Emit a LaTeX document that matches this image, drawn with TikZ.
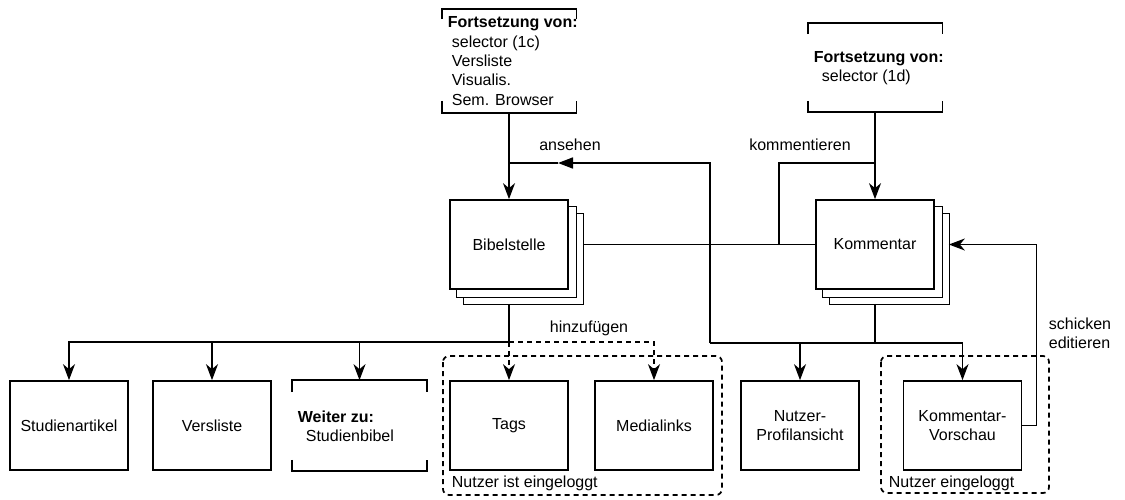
\documentclass[tikz,border=0pt]{standalone}
\usepackage{fontspec}
\setmainfont{Liberation Sans}
\usetikzlibrary{arrows.meta,backgrounds}
\begin{document}
\begin{tikzpicture}[x=1pt,y=-1pt,line width=1.7pt,
  every node/.style={font=\fontsize{16}{19.3}\selectfont},
  box/.style={draw,fill=white,minimum width=118pt,minimum height=89pt,inner sep=0pt,align=center},
  frame/.style={minimum width=133pt,inner sep=0pt},
  arr/.style={-{Stealth[length=16pt,width=12pt,inset=5pt]}},
  tri/.style={-{Triangle[length=15pt,width=11pt]}},
  dashedline/.style={dash pattern=on 5pt off 4pt},
  group/.style={draw,dash pattern=on 5pt off 4pt,rounded corners=6pt},
  lbl/.style={inner sep=0pt}
]
\useasboundingbox (0,0) rectangle (1125,499);

% groups of views that need a logged-in user
\draw[group] (443,356) rectangle (722,495);
\draw[group] (881,356) rectangle (1049,493);
\node[lbl,anchor=west] (g1) at (451,483) {Nutzer ist eingeloggt};
\node[lbl,anchor=west] (g2) at (888,483) {Nutzer eingeloggt};

% continuation brackets at the top
\node[frame,minimum height=102pt] (src1) at (509,61) {};
\draw (src1.north west) ++(0,10) -- (src1.north west) -- (src1.north east) -- ++(0,10);
\draw (src1.south west) ++(0,-12) -- (src1.south west) -- (src1.south east) -- ++(0,-12);
\node[lbl,anchor=west,align=left] (src1t) at (447,61)
  {\textbf{Fortsetzung von:}\\\hspace*{4pt}selector (1c)\\\hspace*{4pt}Versliste\\\hspace*{4pt}Visualis.\\\hspace*{4pt}Sem. Browser};

\node[frame,minimum height=87pt] (src2) at (875,67.5) {};
\draw (src2.north west) ++(0,11) -- (src2.north west) -- (src2.north east) -- ++(0,11);
\draw (src2.south west) ++(0,-11) -- (src2.south west) -- (src2.south east) -- ++(0,-11);
\node[lbl,anchor=west,align=left] (src2t) at (813,68)
  {\textbf{Fortsetzung von:}\\\hspace*{8pt}selector (1d)};

% stacked main views
\node[box] (bib) at (509,244.5) {Bibelstelle};
\node[box] (kom) at (875,244.5) {Kommentar};
\begin{scope}[on background layer]
  \foreach \n in {bib,kom}{
    \draw[fill=white] ([shift={(14,14)}]\n.south west) rectangle ([shift={(14,14)}]\n.north east);
    \draw[fill=white] ([shift={(7,7)}]\n.south west) rectangle ([shift={(7,7)}]\n.north east);
  }
\end{scope}

% bottom row
\node[box] (art) at (69,425.5) {Studienartikel};
\node[box] (vers) at (212,425.5) {Versliste};
\node[frame,minimum height=89pt] (weiter) at (359.5,425.5) {};
\draw (weiter.north west) ++(0,12) -- (weiter.north west) -- (weiter.north east) -- ++(0,12);
\draw (weiter.south west) ++(0,-11) -- (weiter.south west) -- (weiter.south east) -- ++(0,-11);
\node[lbl,anchor=west,align=left] (weitert) at (297,426)
  {\textbf{Weiter zu:}\\\hspace*{8pt}Studienbibel};
\node[box] (tags) at (509,425.5) {Tags};
\node[box] (media) at (654,425.5) {Medialinks};
\node[box] (prof) at (800,425.5) {Nutzer-\\Profilansicht};
\node[box] (vor) at (962.5,425.5) {Kommentar-\\Vorschau};

% junction points
\coordinate (bibjoin) at (bib.south |- 0,342);
\coordinate (rbus) at (710,343);
\coordinate (komjoin) at (kom.south |- rbus);
\coordinate (amid) at (558,163);
\coordinate (kj) at (779,245);

% connectors
\draw[arr] (src1.south) -- (bib.north);
\draw[arr] (src2.south) -- (kom.north);
\draw ([xshift=14pt]bib.east) -- (kom.west);
\draw (kj) |- (kom.north |- 0,163);

\draw ([yshift=-14pt]bib.south) -- (bibjoin);
\draw[arr] (bibjoin) -| (art.north);
\draw[arr] (bibjoin) -| (vers.north);
\draw[arr] (bibjoin) -| (weiter.north);
\draw[arr,dashedline] (bibjoin) -- (tags.north);
\draw[arr,dashedline] (bibjoin) -| (media.north);

\draw ([yshift=-14pt]kom.south) -- (komjoin);
\draw[arr] (rbus) -| (vor.north);
\draw[arr] (komjoin) -| (prof.north);
\draw[tri] (rbus) |- (amid);
\draw (amid) -- (bib.north |- amid);

\draw[arr] (vor.east) -- ++(14,0) |- ([xshift=14pt]kom.east);

% connector labels
\node[lbl] (lans) at (570,145) {ansehen};
\node[lbl] (lkom) at (800,145) {kommentieren};
\node[lbl] (lhin) at (589,328) {hinzufügen};
\node[lbl,anchor=west,align=left] (lsch) at (1048,333.5) {schicken\\editieren};
\end{tikzpicture}
\end{document}
